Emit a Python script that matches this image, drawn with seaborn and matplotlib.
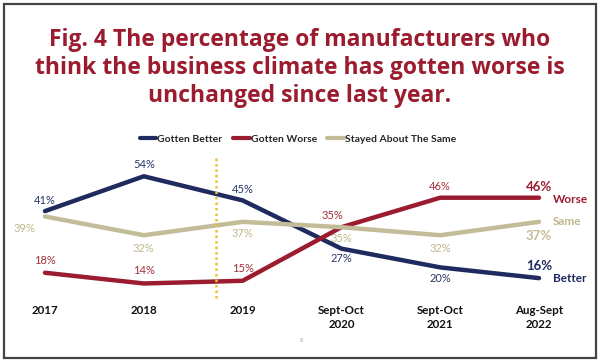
import numpy as np
import pandas as pd
import matplotlib
matplotlib.use("Agg")
import matplotlib.pyplot as plt
import seaborn as sns
from matplotlib.patches import Rectangle

# data
periods = ["2017", "2018", "2019", "Sept-Oct\n2020", "Sept-Oct\n2021", "Aug-Sept\n2022"]
better = [41, 54, 45, 27, 20, 16]
worse = [18, 14, 15, 35, 46, 46]
same = [39, 32, 37, 35, 32, 37]
series_names = ["Gotten Better", "Gotten Worse", "Stayed About The Same"]
end_labels = ["Better", "Worse", "Same"]

colors = {"Gotten Better": "#1f2a5e", "Gotten Worse": "#9b1c2e", "Stayed About The Same": "#c3bc98"}
label_colors = {"Gotten Better": "#2b3668", "Gotten Worse": "#a3303e", "Stayed About The Same": "#c0b68c"}

df = pd.DataFrame({
    "x": list(range(len(periods))) * 3,
    "value": better + worse + same,
    "series": [s for s in series_names for _ in periods],
})

sns.set_theme(style="white")
plt.rcParams["font.family"] = ["Lato", "DejaVu Sans"]

W, H = 600, 364
fig = plt.figure(figsize=(6, 3.64), dpi=100)

# pixel geometry: x=0 at 45px, x=5 at 539px ; 0% at 321px from top, 2.68 px per %
ppx = 2.68
y0_px = 321
ymin, ymax = 8, 62
ax_left = 45 / W
ax_w = (539 - 45) / W
ax_bottom = (H - (y0_px - ymin * ppx)) / H
ax_h = (ymax - ymin) * ppx / H
ax = fig.add_axes([ax_left, ax_bottom, ax_w, ax_h])

sns.lineplot(data=df, x="x", y="value", hue="series", palette=colors,
             linewidth=3.2, ax=ax, legend=False, sort=False)
for ln in ax.lines:
    ln.set_solid_capstyle("round")
    ln.set_clip_on(False)

ax.set_xlim(0, 5)
ax.set_ylim(ymin, ymax)
ax.set_xticks(range(len(periods)))
ax.set_xticklabels(periods, fontsize=8.3, fontweight="bold", color="#111111", linespacing=1.3)
ax.tick_params(axis="x", length=0, pad=4)
ax.set_yticks([])
ax.set_xlabel("")
ax.set_ylabel("")
sns.despine(ax=ax, left=True, bottom=True)

# data labels: (dx px, dy px) offsets per point
offsets = {
    "Gotten Better": [(0, 11), (0, 12), (0, 11), (0, -10), (0, -11), (0, 12)],
    "Gotten Worse": [(0, 12), (0, 13), (0, 12), (-9, 12), (0, 11), (0, 11)],
    "Stayed About The Same": [(-20, -12), (0, -13), (0, -12), (0, -11), (0, -13), (0, -14)],
}
values = {"Gotten Better": better, "Gotten Worse": worse, "Stayed About The Same": same}
for name in series_names:
    for i, v in enumerate(values[name]):
        dx, dy = offsets[name][i]
        last = i == len(periods) - 1
        ax.annotate(f"{v}%", (i, v), xytext=(dx * 0.72, dy * 0.72), textcoords="offset points",
                    ha="center", va="center", fontsize=9.5 if last else 8,
                    fontweight="bold" if last else "normal",
                    color=colors[name] if last else label_colors[name])

for name, lab, dy in zip(series_names, end_labels, [0, -2, 0]):
    v = values[name][-1]
    ax.annotate(lab, (5, v), xytext=(10, dy * 0.72), textcoords="offset points",
                ha="left", va="center", fontsize=8.5, fontweight="bold",
                color=colors[name] if name != "Stayed About The Same" else label_colors[name])

# vertical dotted divider
fig.add_artist(plt.Line2D([216 / W, 216 / W], [1 - 158 / H, 1 - 300 / H],
                          color="#e6c23a", linestyle=(0, (1, 1.2)), linewidth=1.8))

# legend
handles = [plt.Line2D([], [], color=colors[s], linewidth=3, solid_capstyle="round") for s in series_names]
leg = fig.legend(handles, series_names, loc="center", bbox_to_anchor=(298 / W, 1 - 139 / H),
                 ncol=3, frameon=False, handlelength=1.6, handletextpad=0.1,
                 columnspacing=1.0, prop={"weight": "bold", "size": 7.5})

# title
fig.text(0.5, 1 - 68 / H,
         "Fig. 4 The percentage of manufacturers who\nthink the business climate has gotten worse is\nunchanged since last year.",
         ha="center", va="center", fontsize=16.5, fontweight="bold", color="#9b1c2e",
         linespacing=1.2, family=["Open Sans", "DejaVu Sans"])

# page number
fig.text(302 / W, 1 - 341 / H, "8", ha="center", va="center", fontsize=4.5, color="#aaaaaa")

# outer frame
fig.add_artist(Rectangle((4 / W, 6 / H), 592 / W, 354 / H, transform=fig.transFigure,
                         fill=False, edgecolor="#444444", linewidth=1.6))

fig.savefig("out.png", dpi=100)
